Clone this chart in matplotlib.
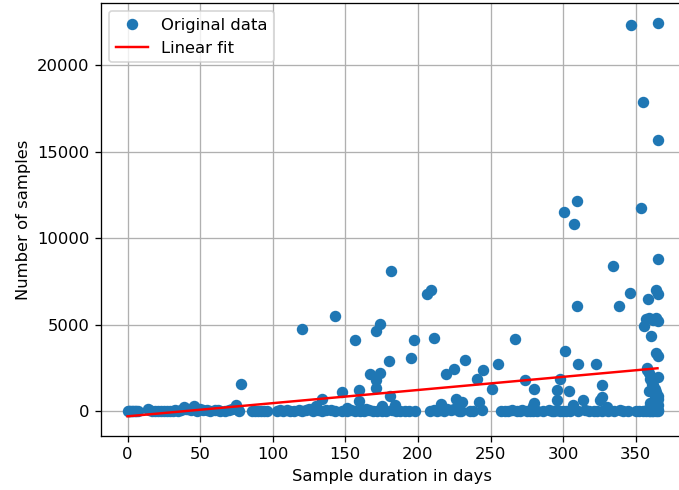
import numpy as np
import matplotlib
matplotlib.use("Agg")
import matplotlib.pyplot as plt

# sample durations (days) that ended up with few or no samples
zero_days = [0, 1, 2, 3, 4, 5, 6, 7, 14, 15,
             17, 19, 21, 23, 25, 27, 29, 31, 33, 35,
             37, 40, 42, 44, 48, 50, 52, 55, 57, 60,
             62, 64, 67, 70, 72, 76, 77, 86, 88, 90,
             92, 94, 96, 103, 105, 107, 110, 112, 115, 118,
             120, 123, 125, 128, 131, 134, 137, 140, 143, 148,
             151, 154, 157, 160, 163, 166, 169, 172, 175, 178,
             182, 185, 188, 191, 194, 198, 208, 211, 213, 215,
             218, 220, 223, 225, 228, 230, 236, 238, 244, 257,
             260, 262, 265, 268, 270, 272, 275, 277, 279, 282,
             286, 290, 292, 294, 296, 298, 300, 302, 305, 310,
             315, 318, 321, 323, 327, 331, 335, 339, 341, 345,
             350, 352, 355, 357, 358, 359, 360, 361, 362, 363,
             364, 365, 365]
zero_vals = [20, 10, 30, 15, 5, 25, 10, 20, 120, 60,
             30, 40, 20, 50, 30, 10, 40, 20, 60, 30,
             80, 150, 120, 60, 40, 150, 60, 100, 40, 80,
             60, 30, 50, 80, 120, 90, 40, 30, 20, 10,
             40, 30, 20, 50, 80, 30, 60, 20, 40, 80,
             30, 60, 150, 40, 70, 30, 60, 100, 20, 40,
             30, 60, 20, 40, 30, 80, 20, 50, 30, 40,
             60, 20, 30, 50, 20, 40, 20, 60, 30, 80,
             40, 150, 60, 120, 40, 30, 20, 50, 80, 20,
             40, 30, 60, 40, 20, 80, 30, 50, 40, 20,
             30, 60, 20, 40, 80, 30, 50, 20, 40, 30,
             60, 20, 40, 30, 50, 20, 40, 60, 30, 20,
             50, 40, 30, 20, 60, 40, 30, 50, 20, 80,
             40, 60, 30]

# larger collections
big_days = [39, 46, 75, 78, 120.5, 127, 130, 133.8, 143, 148,
            151, 157, 159.5, 159.5, 164, 167, 171, 171, 171, 174,
            174, 175, 180, 180.7, 181.5, 184, 195, 197.5, 206.6, 209.3,
            211, 216, 219, 225, 226.5, 230.6, 232.5, 241, 242, 244.5,
            251, 255, 266.7, 274, 279, 280, 280, 296, 297.7, 296,
            300.4, 301, 304, 307, 307.8, 309.4, 309.4, 310.3, 313.5, 322.5,
            325.4, 326.5, 327, 330.5, 334.5, 338.7, 346.1, 347, 353.5, 354.8,
            358.7, 365, 365, 364, 365, 365, 356, 357, 359, 362,
            364, 365, 360.8, 364, 365, 358, 359, 360, 361, 362,
            363, 364, 365, 365, 358, 360, 362, 364, 365, 359,
            361, 363, 365]
big_vals = [250, 300, 350, 1600, 4780, 150, 300, 720, 5490, 1150,
            200, 4100, 1260, 580, 150, 2150, 4640, 1800, 1380, 5070,
            2210, 300, 2890, 900, 8090, 350, 3080, 4100, 6800, 6990,
            4250, 440, 2140, 2470, 730, 540, 3000, 1890, 540, 2370,
            1310, 2750, 4180, 1790, 290, 1310, 480, 1250, 1870, 640,
            11500, 3490, 1170, 350, 10810, 12180, 6100, 2740, 690, 2760,
            640, 830, 1500, 250, 8420, 6110, 6840, 22310, 11770, 17860,
            6500, 22450, 15660, 6990, 6760, 8790, 4950, 5350, 5400, 5300,
            5400, 5200, 4350, 3370, 3180, 2500, 2200, 1900, 1700, 1500,
            1300, 1100, 900, 700, 2400, 500, 300, 600, 400, 1200,
            1600, 800, 2000]

# coefficients of the least-squares line (slope, intercept)
fit_coef = [7.6, -280]

days = np.array(zero_days + big_days)
samples = np.array(zero_vals + big_vals)

fig = plt.figure(figsize=(679 / 117.5, 490 / 117.5), dpi=117.5)
ax = fig.add_axes([101 / 679, 54 / 490, 583 / 679, 433 / 490])

ax.plot(days, samples, 'o', label='Original data')
xs = np.array([days.min(), days.max()])
ax.plot(xs, np.polyval(fit_coef, xs), 'r', label='Linear fit')

ax.set_xlabel('Sample duration in days')
ax.set_ylabel('Number of samples')
ax.grid(True)
ax.legend(loc='upper left')

fig.savefig('out.png', dpi=117.5)
